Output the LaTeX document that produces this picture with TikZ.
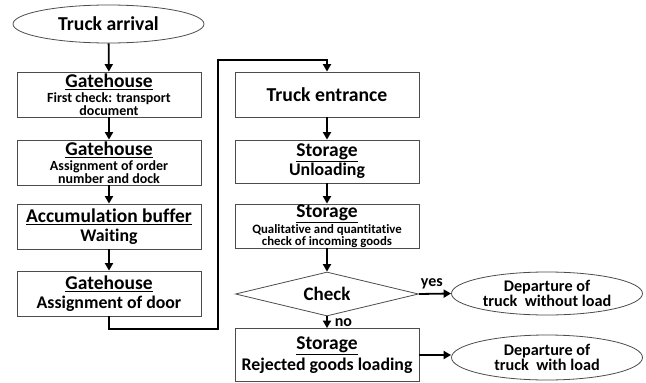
\documentclass[tikz,border=0pt]{standalone}
\usepackage{fontspec}
\setmainfont{Carlito}[RawFeature={-liga;-clig}]
\usetikzlibrary{shapes.geometric,arrows.meta}
\begin{document}
\begin{tikzpicture}[x=1pt,y=-1pt,
  box/.style={draw=black!70,line width=0.8pt,minimum width=184pt,minimum height=45pt,inner sep=0pt,align=center,font=\bfseries\fontsize{14}{12.8}\selectfont},
  ell/.style={draw=black!70,line width=0.8pt,ellipse,minimum width=191pt,minimum height=43pt,inner sep=0pt,align=center,font=\bfseries\fontsize{16.2}{15}\selectfont},
  arr/.style={line width=1.8pt,-{Triangle[length=7.5pt,width=8pt]}},
  lbl/.style={font=\bfseries\fontsize{16}{16}\selectfont,inner sep=0pt}]
\newcommand{\hd}[1]{{\fontsize{19.5}{16}\selectfont\underline{#1}}}
\useasboundingbox (0,0) rectangle (646,383);
\fill[white] (0,0) rectangle (646,383);
% left column
\node[ell,minimum height=38pt,font=\bfseries\fontsize{19.7}{20}\selectfont] (ta) at (108.5,24) {Truck arrival};
\node[box] (g1) at (109,94.5) {\hd{Gatehouse}\\[2pt]First check: transport\\document};
\node[box] (g2) at (109,162.5) {\hd{Gatehouse}\\[2pt]Assignment of order\\number and dock};
\node[box,font=\bfseries\fontsize{17.8}{19}\selectfont] (ab) at (109,226.5) {\hd{Accumulation buffer}\\Waiting};
\node[box,font=\bfseries\fontsize{17.8}{19}\selectfont] (g4) at (109,293.5) {\hd{Gatehouse}\\Assignment of door};
% right column
\node[box,font=\bfseries\fontsize{19.7}{20}\selectfont] (te) at (327,94.5) {Truck entrance};
\node[box,minimum height=43pt,font=\bfseries\fontsize{17.8}{19}\selectfont] (su) at (327,161.5) {\hd{Storage}\\Unloading};
\node[box,minimum height=44pt,font=\bfseries\fontsize{12.8}{11.8}\selectfont] (sq) at (327,226) {\hd{Storage}\\[0.5pt]Qualitative and quantitative\\check of incoming goods};
\node[draw=black!70,line width=0.8pt,diamond,aspect=4.2,minimum width=183pt,minimum height=44pt,inner sep=0pt,font=\bfseries\fontsize{19}{19}\selectfont] (ck) at (327,294) {Check};
\node[box,minimum height=53pt,font=\bfseries\fontsize{17.8}{21}\selectfont] (sr) at (327,355) {\hd{Storage}\\Rejected goods loading};
\node[ell] (d1) at (547,293.5) {Departure of\\truck\ \ without load};
\node[ell,minimum height=45pt] (d2) at (547,357.5) {Departure of\\truck\ \ with load};
% connectors
\coordinate (c1) at (218,329);
\coordinate (c2) at (218,60);
\draw[arr] (ta) -- (g1);
\draw[arr] (g1) -- (g2);
\draw[arr] (g2) -- (ab);
\draw[arr] (ab) -- (g4);
\draw[arr] (g4.south) |- (c1) -- (c2) -| (te.north);
\draw[arr] (te) -- (su);
\draw[arr] (su) -- (sq);
\draw[arr] (sq) -- (ck);
\draw[arr] (ck) -- (sr) node[lbl,pos=0.5,right=7pt] (no) {no};
\draw[arr] (ck.east) -- (d1.west) node[lbl,pos=0.4,above=4pt] (yes) {yes};
\draw[arr] (sr.east) -- (d2.west |- sr.east);
\end{tikzpicture}
\end{document}
